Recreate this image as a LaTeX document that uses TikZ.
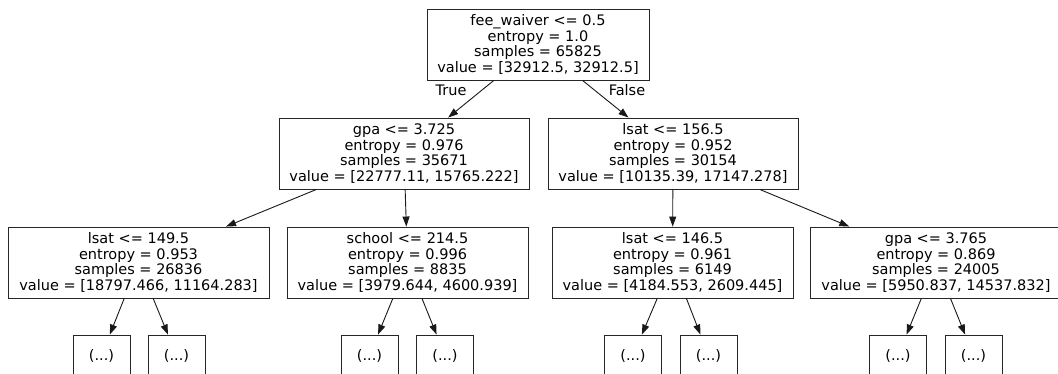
\documentclass[tikz,border=0pt]{standalone}
\usepackage{fontspec}
\setmainfont{DejaVu Sans}
\usetikzlibrary{arrows.meta}
\tikzset{
  split/.style={draw=black!85, line width=0.9pt, rectangle, inner sep=0pt,
    minimum height=71pt, align=center, font=\fontsize{14.5}{15.7}\selectfont},
  leaf/.style={draw=black!85, line width=0.9pt, rectangle, inner sep=0pt,
    minimum width=57pt, minimum height=41pt, font=\fontsize{14.5}{15.7}\selectfont},
  edgelabel/.style={inner sep=0pt, font=\fontsize{14.5}{15.7}\selectfont},
  link/.style={draw=black!90, line width=0.9pt, -{Triangle[length=10pt,width=7pt]}},
}
\begin{document}
\begin{tikzpicture}[x=1pt,y=-1pt]
\clip (0,0) rectangle (1058,374);
\useasboundingbox (0,0) rectangle (1058,374);
\fill[white] (0,0) rectangle (1058,374);
% root
\node[split, minimum width=222pt] (root) at (538,44.5)
  {fee\_waiver <= 0.5\\entropy = 1.0\\samples = 65825\\value = [32912.5, 32912.5]};
% level 1
\node[split, minimum width=250pt] (L) at (404,153.5)
  {gpa <= 3.725\\entropy = 0.976\\samples = 35671\\value = [22777.11, 15765.222]};
\node[split, minimum width=250pt] (R) at (673,153.5)
  {lsat <= 156.5\\entropy = 0.952\\samples = 30154\\value = [10135.39, 17147.278]};
% level 2
\node[split, minimum width=261pt] (LL) at (138.5,262.5)
  {lsat <= 149.5\\entropy = 0.953\\samples = 26836\\value = [18797.466, 11164.283]};
\node[split, minimum width=241pt] (LR) at (407.5,262.5)
  {school <= 214.5\\entropy = 0.996\\samples = 8835\\value = [3979.644, 4600.939]};
\node[split, minimum width=241pt] (RL) at (672.5,262.5)
  {lsat <= 146.5\\entropy = 0.961\\samples = 6149\\value = [4184.553, 2609.445]};
\node[split, minimum width=252pt] (RR) at (936,262.5)
  {gpa <= 3.765\\entropy = 0.869\\samples = 24005\\value = [5950.837, 14537.832]};
% leaves
\node[leaf] (LLa) at (101.5,355.5) {(...)};
\node[leaf] (LLb) at (176.5,355.5) {(...)};
\node[leaf] (LRa) at (369.5,355.5) {(...)};
\node[leaf] (LRb) at (445,355.5) {(...)};
\node[leaf] (RLa) at (633,355.5) {(...)};
\node[leaf] (RLb) at (708.5,355.5) {(...)};
\node[leaf] (RRa) at (898,355.5) {(...)};
\node[leaf] (RRb) at (973.5,355.5) {(...)};
% edges
\draw[link] (root) -- (L);
\draw[link] (root) -- (R);
\draw[link] (L) -- (LL);
\draw[link] (L) -- (LR);
\draw[link] (R) -- (RL);
\draw[link] (R) -- (RR);
\draw[link] (LL) -- (LLa);
\draw[link] (LL) -- (LLb);
\draw[link] (LR) -- (LRa);
\draw[link] (LR) -- (LRb);
\draw[link] (RL) -- (RLa);
\draw[link] (RL) -- (RLb);
\draw[link] (RR) -- (RRa);
\draw[link] (RR) -- (RRb);
% edge labels
\node[edgelabel] (tlab) at (451,90) {True};
\node[edgelabel] (flab) at (627,90) {False};
\end{tikzpicture}
\end{document}
